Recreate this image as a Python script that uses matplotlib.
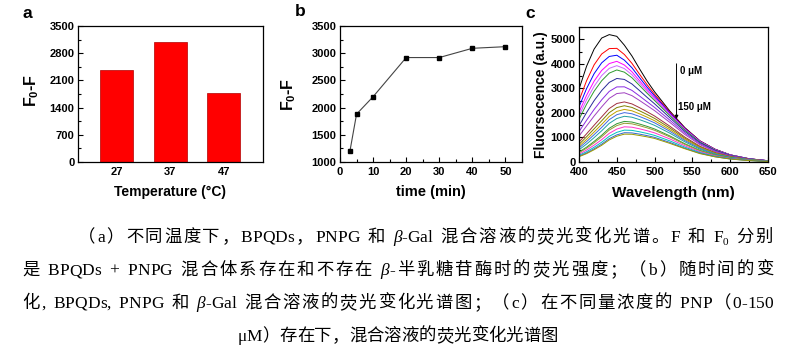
import numpy as np
import matplotlib
matplotlib.use("Agg")
import matplotlib.pyplot as plt
from matplotlib.ticker import MultipleLocator

plt.rcParams['font.family'] = ['Liberation Sans', 'Noto Sans CJK SC', 'DejaVu Sans']
plt.rcParams['mathtext.fontset'] = 'custom'
plt.rcParams['mathtext.rm'] = 'Liberation Sans'
plt.rcParams['mathtext.bf'] = 'Liberation Sans:bold'

# panel a: temperature
temps = ['27', '37', '47']
temp_vals = [2380, 3100, 1780]

# panel b: time
times = [3, 5, 10, 20, 30, 40, 50]
time_vals = [1200, 1880, 2200, 2920, 2920, 3090, 3120]

# panel c: spectra, 0 uM (top) to 150 uM (bottom)
wavelengths = [400, 410, 420, 430, 440, 450, 460, 470, 480, 490, 500, 520, 540, 560, 580, 600, 625, 650]
spectra = [
    [2970, 3900, 4600, 5050, 5190, 5120, 4760, 4320, 3800, 3300, 2860, 2080, 1400, 860, 520, 290, 130, 50],
    [2500, 3310, 3960, 4400, 4620, 4630, 4380, 4020, 3580, 3150, 2760, 2040, 1380, 855, 517, 292, 132, 51],
    [2245, 2990, 3600, 4040, 4300, 4350, 4150, 3840, 3440, 3050, 2690, 2007, 1363, 845, 510, 291, 132, 51],
    [2030, 2716, 3295, 3731, 4010, 4101, 3951, 3676, 3312, 2953, 2618, 1965, 1341, 833, 503, 286, 131, 51],
    [1884, 2531, 3086, 3520, 3815, 3925, 3806, 3555, 3218, 2881, 2564, 1933, 1322, 824, 497, 283, 130, 51],
    [1743, 2352, 2884, 3311, 3621, 3750, 3660, 3433, 3119, 2803, 2504, 1895, 1299, 811, 489, 279, 129, 51],
    [1478, 2014, 2500, 2912, 3243, 3403, 3364, 3179, 2911, 2636, 2370, 1809, 1245, 780, 470, 269, 125, 49],
    [1234, 1700, 2141, 2533, 2877, 3059, 3063, 2918, 2691, 2455, 2222, 1709, 1180, 742, 447, 257, 120, 47],
    [1055, 1468, 1873, 2247, 2593, 2789, 2821, 2704, 2508, 2301, 2092, 1618, 1120, 706, 425, 245, 114, 45],
    [810, 1148, 1498, 1839, 2179, 2384, 2448, 2367, 2214, 2048, 1874, 1462, 1015, 642, 386, 223, 105, 41],
    [718, 1027, 1353, 1679, 2012, 2217, 2292, 2224, 2087, 1936, 1777, 1390, 967, 612, 368, 213, 100, 40],
    [637, 918, 1223, 1533, 1857, 2061, 2143, 2087, 1964, 1828, 1681, 1319, 919, 583, 350, 203, 96, 38],
    [570, 828, 1114, 1409, 1725, 1926, 2012, 1965, 1855, 1730, 1595, 1254, 874, 555, 333, 193, 91, 36],
    [496, 730, 994, 1272, 1575, 1771, 1862, 1825, 1727, 1616, 1493, 1177, 822, 522, 314, 182, 86, 34],
    [404, 604, 839, 1091, 1374, 1560, 1654, 1628, 1547, 1453, 1346, 1065, 745, 474, 285, 165, 78, 31],
    [373, 561, 784, 1027, 1302, 1484, 1578, 1555, 1480, 1392, 1292, 1023, 716, 456, 274, 159, 76, 30],
    [318, 485, 687, 911, 1168, 1341, 1434, 1418, 1353, 1276, 1186, 942, 659, 420, 252, 147, 70, 28],
    [270, 418, 601, 806, 1046, 1209, 1299, 1288, 1232, 1164, 1084, 863, 605, 386, 231, 135, 64, 26],
    [235, 368, 536, 727, 952, 1105, 1193, 1185, 1136, 1075, 1003, 799, 560, 358, 215, 125, 60, 24],
    [215, 340, 500, 680, 900, 1050, 1135, 1130, 1080, 1025, 960, 760, 540, 340, 210, 120, 57, 23],
]
curve_colors = ['#000000', '#ff0000', '#0000ff', '#ff00ff', '#cc66ff', '#2e9a2e', '#2a2a99',
                '#8a2be2', '#a040c0', '#a03040', '#808000', '#c0a000', '#4169e1', '#20a0a0',
                '#339933', '#999933', '#ff33cc', '#00bfbf', '#3366cc', '#999900']

# caption lines as (text, style) pieces: n = normal, i = italic, s = subscript
caption = [
    [('（a）不同温度下，BPQDs，PNPG 和 ', 'n'), ('β', 'i'), ('-Gal 混合溶液的荧光变化光谱。F 和 F', 'n'),
     ('0', 's'), (' 分别', 'n')],
    [('是 BPQDs + PNPG 混合体系存在和不存在 ', 'n'), ('β', 'i'), ('-半乳糖苷酶时的荧光强度；（b）随时间的变', 'n')],
    [('化, BPQDs, PNPG 和 ', 'n'), ('β', 'i'), ('-Gal 混合溶液的荧光变化光谱图；（c）在不同量浓度的 PNP（0-150', 'n')],
    [('μM）存在下，混合溶液的荧光变化光谱图', 'n')],
]

W, H = 786, 356
fig = plt.figure(figsize=(W / 100, H / 100), dpi=100)

def box(l, t, r, b):
    return [l / W, 1 - b / H, (r - l) / W, (b - t) / H]

ax1 = fig.add_axes(box(78, 26, 263, 162))
ax2 = fig.add_axes(box(340, 26, 522, 162))
ax3 = fig.add_axes(box(579, 27, 768, 162))

tick_fs = 8
lab_fs = 10

for ax in (ax1, ax2, ax3):
    ax.tick_params(which='both', direction='in', labelsize=tick_fs, width=0.8, pad=2.5)
    ax.tick_params(axis='x', which='both', pad=3.5)
    ax.tick_params(which='major', length=3.5)
    ax.tick_params(which='minor', length=2)
    for s in ax.spines.values():
        s.set_linewidth(0.9)

# a
x = np.arange(len(temps))
ax1.bar(x, temp_vals, width=0.62, color='#ff0000', edgecolor='#b00000', linewidth=0.5)
ax1.set_xticks(x, temps, fontweight='bold')
ax1.tick_params(axis='x', length=0)
ax1.set_xlim(-0.72, 2.73)
ax1.set_ylim(0, 3500)
ax1.set_yticks(np.arange(0, 3501, 700), [str(v) for v in range(0, 3501, 700)], fontweight='bold')
ax1.yaxis.set_minor_locator(MultipleLocator(350))
ax1.set_xlabel('Temperature (°C)', fontsize=lab_fs, fontweight='bold')
ax1.set_ylabel(r'F$_\mathbf{0}$-F', fontsize=lab_fs + 1.5, fontweight='bold')
ax1.xaxis.set_label_coords(0.5, -0.17)
ax1.yaxis.set_label_coords(-0.2, 0.53)

# b
ax2.plot(times, time_vals, color='#444444', lw=0.8, marker='s', ms=2.5,
         mfc='black', mec='black')
ax2.set_xlim(0, 55)
ax2.set_ylim(1000, 3500)
ax2.set_xticks(range(0, 51, 10), [str(v) for v in range(0, 51, 10)], fontweight='bold')
ax2.set_yticks(range(1000, 3501, 500), [str(v) for v in range(1000, 3501, 500)], fontweight='bold')
ax2.xaxis.set_minor_locator(MultipleLocator(5))
ax2.yaxis.set_minor_locator(MultipleLocator(250))
ax2.set_xlabel('time (min)', fontsize=lab_fs + 0.5, fontweight='bold')
ax2.set_ylabel(r'F$_\mathbf{0}$-F', fontsize=lab_fs + 1.5, fontweight='bold')
ax2.xaxis.set_label_coords(0.5, -0.17)
ax2.yaxis.set_label_coords(-0.23, 0.5)

# c
for row, col in zip(spectra, curve_colors):
    ax3.plot(wavelengths, row, color=col, lw=0.7)
ax3.set_xlim(400, 650)
ax3.set_ylim(0, 5500)
ax3.set_xticks(range(400, 651, 50), [str(v) for v in range(400, 651, 50)], fontweight='bold')
ax3.set_yticks(range(0, 5001, 1000), [str(v) for v in range(0, 5001, 1000)], fontweight='bold')
ax3.xaxis.set_minor_locator(MultipleLocator(25))
ax3.yaxis.set_minor_locator(MultipleLocator(500))
ax3.set_xlabel('Wavelength (nm)', fontsize=lab_fs + 1, fontweight='bold')
ax3.set_ylabel('Fluorsecence (a.u.)', fontsize=lab_fs, fontweight='bold')
ax3.xaxis.set_label_coords(0.5, -0.18)
ax3.yaxis.set_label_coords(-0.165, 0.5)
ax3.annotate('', xy=(529, 1750), xytext=(529, 4000),
             arrowprops=dict(arrowstyle='-|>', color='black', lw=0.7,
                             mutation_scale=5, shrinkA=0, shrinkB=0))
ax3.text(533, 3700, '0 μM', fontsize=7, fontweight='bold', va='center')
ax3.text(531, 2250, '150 μM', fontsize=7, fontweight='bold', va='center')

# panel letters
fig.text(27 / W, 1 - 14 / H, 'a', fontsize=12.5, fontweight='bold', ha='center', va='center')
fig.text(300 / W, 1 - 12 / H, 'b', fontsize=12.5, fontweight='bold', ha='center', va='center')
fig.text(530 / W, 1 - 14 / H, 'c', fontsize=12.5, fontweight='bold', ha='center', va='center')

# caption, drawn char by char so lines can be justified
cap_fs = 12.5
cap_fam = ['Liberation Serif', 'Noto Sans CJK SC']
styles = {
    'n': dict(family=cap_fam, fontsize=cap_fs),
    'i': dict(family=['Liberation Serif'], style='italic', fontsize=cap_fs),
    's': dict(family=cap_fam, fontsize=cap_fs * 0.65),
}
renderer = fig.canvas.get_renderer()

def text_w(s, kw):
    t = fig.text(0, 0, s, **kw)
    w = t.get_window_extent(renderer).width
    t.remove()
    return w

def is_latin(c):
    return c != ' ' and ord(c) < 0x2000

def draw_line(pieces, x0, x1, yc, justify=True):
    chars = [(c, st) for s, st in pieces for c in s]
    ws = []
    for c, st in chars:
        ref = text_w('|', styles[st])
        ws.append(text_w(c + '|', styles[st]) - ref)
    total = sum(ws)
    # stretch only between cjk chars / spaces, keep latin words tight
    can = [not (is_latin(chars[k][0]) and is_latin(chars[k + 1][0]))
           for k in range(len(chars) - 1)] + [False]
    if justify:
        gap = (x1 - x0 - total) / max(1, sum(can))
        xp = x0
    else:
        gap = 0
        xp = (x0 + x1) / 2 - total / 2
    base = yc + 5
    for (c, st), w, g in zip(chars, ws, can):
        if c != ' ':
            dy = 3 if st == 's' else 0
            fig.text(xp / W, 1 - (base + dy) / H, c, va='baseline', **styles[st])
        xp += w + (gap if g else 0)

draw_line(caption[0], 78, 773, 237)
draw_line(caption[1], 22, 773, 270)
draw_line(caption[2], 22, 773, 303)
draw_line(caption[3], 22, 773, 336, justify=False)

fig.savefig('out.png', dpi=100)
